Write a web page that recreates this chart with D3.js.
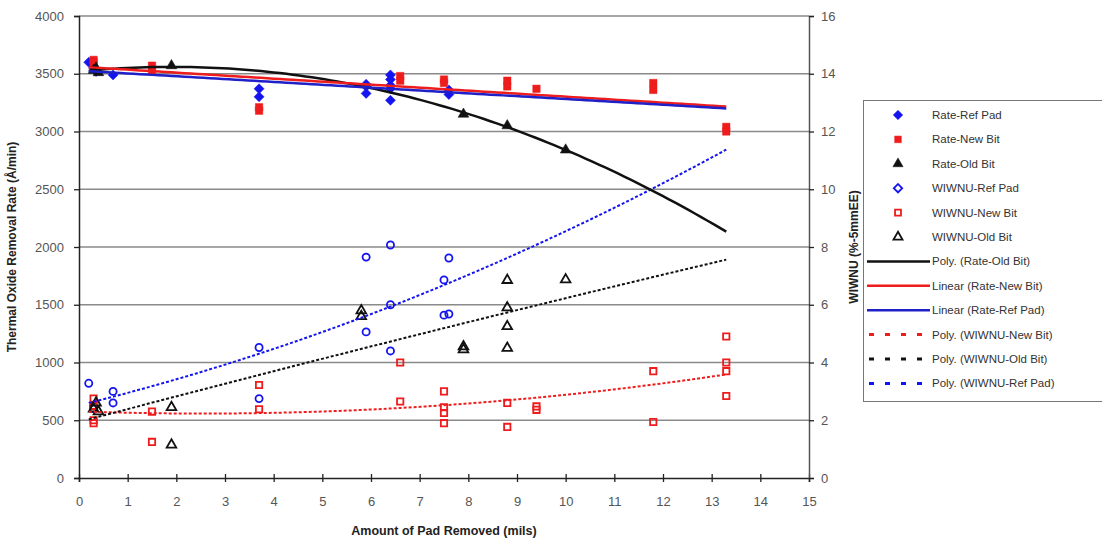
<!DOCTYPE html>
<html><head><meta charset="utf-8">
<script src="https://cdn.jsdelivr.net/npm/d3@7"></script>
<style>body{margin:0;background:#fff;} text{font-family:"Liberation Sans",Arial,sans-serif;}</style>
</head><body><svg id="c" width="1102" height="542"></svg>
<script>
// ---- data ----
const xTicks = d3.range(0, 16, 1);
const yLeftTicks = d3.range(0, 4001, 500);
const yRightTicks = d3.range(0, 17, 2);

const rateRefX = [0.2,0.3,0.35,0.7,3.7,3.7,5.9,5.9,5.9,6.4,6.4,6.4,6.4,6.4,7.6,7.6];
const rateRefY = [3600,3550,3520,3490,3370,3300,3410,3390,3330,3490,3450,3400,3370,3270,3360,3320];
const rateNewX = [0.3,0.3,1.5,1.5,3.7,3.7,6.6,6.6,7.5,7.5,8.8,8.8,9.4,11.8,11.8,13.3,13.3];
const rateNewY = [3620,3600,3570,3530,3210,3180,3480,3440,3450,3420,3440,3390,3370,3420,3360,3040,3000];
const rateOldX = [0.3,0.35,0.4,1.9,7.9,8.8,10];
const rateOldY = [3530,3550,3510,3570,3150,3050,2840];

const wRefX = [0.2,0.3,0.3,0.7,0.7,3.7,3.7,5.9,5.9,6.4,6.4,6.4,7.5,7.6,7.5,7.6];
const wRefY = [3.28,2.5,2.4,3.0,2.6,4.52,2.75,7.65,5.06,8.07,6.0,4.4,6.86,7.62,5.64,5.68];
const wNewX = [0.3,0.3,0.3,0.3,1.5,1.5,3.7,3.7,6.6,6.6,7.5,7.5,7.5,7.5,8.8,8.8,9.4,9.4,11.8,11.8,13.3,13.3,13.3,13.3];
const wNewY = [2.75,2.5,2.0,1.9,2.3,1.25,3.22,2.38,4.0,2.65,3.0,2.45,2.25,1.9,2.6,1.77,2.48,2.36,3.7,1.94,4.9,4.0,3.7,2.84];
const wOldX = [0.3,0.35,0.4,1.9,1.9,5.8,5.8,7.9,7.9,8.8,8.8,8.8,8.8,10];
const wOldY = [2.4,2.6,2.3,2.45,1.15,5.8,5.6,4.55,4.45,6.85,5.9,5.25,4.5,6.87];

const trendStart = 0.2, trendEnd = 13.3;

// ---- layout ----
const L = 79, R = 809, T = 16, B = 478;
const svg = d3.select("#c");
const x = d3.scaleLinear().domain([0,15]).range([L,R]);
const yL = d3.scaleLinear().domain([0,4000]).range([B,T]);
const yR = d3.scaleLinear().domain([0,16]).range([B,T]);

// gridlines
svg.append("g").selectAll("line").data(yLeftTicks.filter(v=>v>0)).join("line")
  .attr("x1",L).attr("x2",R).attr("y1",d=>yL(d)).attr("y2",d=>yL(d))
  .attr("stroke","#8a8a8a").attr("stroke-width",1.5);

// axes
const ax = svg.append("g").attr("transform",`translate(0,${B})`)
  .call(d3.axisBottom(x).tickValues(xTicks).tickSize(4).tickPadding(15).tickFormat(d3.format("d")));
ax.selectAll(".tick line").attr("y1",-4);
const ayl = svg.append("g").attr("transform",`translate(${L},0)`)
  .call(d3.axisLeft(yL).tickValues(yLeftTicks).tickSize(5).tickPadding(10).tickFormat(d3.format("d")));
const ayr = svg.append("g").attr("transform",`translate(${R},0)`)
  .call(d3.axisRight(yR).tickValues(yRightTicks).tickSize(5).tickPadding(7).tickFormat(d3.format("d")));
[ax,ayl,ayr].forEach(g=>{
  g.select(".domain").attr("stroke","#222").attr("stroke-width",1.5);
  g.selectAll(".tick line").attr("stroke","#222").attr("stroke-width",1.3);
  g.selectAll(".tick text").attr("font-size",13).attr("fill","#555").attr("font-family","Liberation Sans, Arial, sans-serif");
});
ayr.select(".domain").attr("stroke","#555");

// titles
svg.append("text").attr("x",444).attr("y",535).attr("text-anchor","middle")
  .attr("font-size",12.5).attr("font-weight","bold").attr("fill","#222").text("Amount of Pad Removed (mils)");
svg.append("text").attr("transform","translate(16,247) rotate(-90)").attr("text-anchor","middle")
  .attr("font-size",12).attr("font-weight","bold").attr("fill","#222").text("Thermal Oxide Removal Rate (Å/min)");
svg.append("text").attr("transform","translate(858,247) rotate(-90)").attr("text-anchor","middle")
  .attr("font-size",12).attr("font-weight","bold").attr("fill","#222").text("WIWNU (%-5mmEE)");

// regression
function fit(xs, ys, order){
  const n = order+1;
  const A = Array.from({length:n},()=>new Array(n).fill(0));
  const b = new Array(n).fill(0);
  xs.forEach((xv,i)=>{
    for(let r=0;r<n;r++){ b[r]+=ys[i]*Math.pow(xv,r); for(let c=0;c<n;c++) A[r][c]+=Math.pow(xv,r+c); }
  });
  for(let i=0;i<n;i++){
    let p=i; for(let k=i+1;k<n;k++) if(Math.abs(A[k][i])>Math.abs(A[p][i])) p=k;
    [A[i],A[p]]=[A[p],A[i]]; [b[i],b[p]]=[b[p],b[i]];
    for(let k=i+1;k<n;k++){ const f=A[k][i]/A[i][i]; for(let c=i;c<n;c++) A[k][c]-=f*A[i][c]; b[k]-=f*b[i]; }
  }
  const co=new Array(n).fill(0);
  for(let i=n-1;i>=0;i--){ let s=b[i]; for(let c=i+1;c<n;c++) s-=A[i][c]*co[c]; co[i]=s/A[i][i]; }
  return xv=>co.reduce((s,c,k)=>s+c*Math.pow(xv,k),0);
}
const samples = d3.range(0,101).map(i=>trendStart+(trendEnd-trendStart)*i/100);
function trend(xs,ys,order,yScale,color,dash){
  const f = fit(xs,ys,order);
  const p = svg.append("path").datum(samples)
    .attr("d", d3.line().x(d=>x(d)).y(d=>yScale(f(d))))
    .attr("fill","none").attr("stroke",color).attr("stroke-width",dash?2:2.5);
  if(dash) p.attr("stroke-dasharray",dash);
}

// markers
function markers(xs,ys,yScale,type,color,filled,size,rot){
  svg.append("g").selectAll("path").data(xs.map((v,i)=>[v,ys[i]])).join("path")
    .attr("transform",d=>`translate(${x(d[0])},${yScale(d[1])}) rotate(${rot||0})`)
    .attr("d", d3.symbol().type(type).size(size))
    .attr("fill", filled?color:"#fff").attr("fill-opacity", filled?1:0)
    .attr("stroke",color).attr("stroke-width",filled?0.5:1.8);
}
const BLUE="#1414f0", RED="#ee1c1c", BLK="#111";

markers(wRefX,wRefY,yR,d3.symbolCircle,BLUE,false,40);
markers(wNewX,wNewY,yR,d3.symbolSquare,RED,false,40);
markers(wOldX,wOldY,yR,d3.symbolTriangle,BLK,false,40);

trend(wNewX,wNewY,2,yR,RED,"3,2");
trend(wOldX,wOldY,2,yR,BLK,"3,2");
trend(wRefX,wRefY,2,yR,BLUE,"3,2");

markers(rateRefX,rateRefY,yL,d3.symbolSquare,BLUE,true,50,45);
markers(rateNewX,rateNewY,yL,d3.symbolSquare,RED,true,55,0);
markers(rateOldX,rateOldY,yL,d3.symbolTriangle,BLK,true,50,0);

trend(rateOldX,rateOldY,2,yL,BLK,null);
trend(rateNewX,rateNewY,1,yL,RED,null);
trend(rateRefX,rateRefY,1,yL,"#2020c8",null);

// legend
const lg = svg.append("g");
lg.append("rect").attr("x",863.5).attr("y",100.5).attr("width",245).attr("height",301)
  .attr("fill","#fff").attr("stroke","#777").attr("stroke-width",1);
const legendItems = [
  ["Rate-Ref Pad","m",d3.symbolSquare,BLUE,true,45],
  ["Rate-New Bit","m",d3.symbolSquare,RED,true,0],
  ["Rate-Old Bit","m",d3.symbolTriangle,BLK,true,0],
  ["WIWNU-Ref Pad","m",d3.symbolSquare,BLUE,false,45],
  ["WIWNU-New Bit","m",d3.symbolSquare,RED,false,0],
  ["WIWNU-Old Bit","m",d3.symbolTriangle,BLK,false,0],
  ["Poly. (Rate-Old Bit)","l",null,BLK,null],
  ["Linear (Rate-New Bit)","l",null,RED,null],
  ["Linear (Rate-Ref Pad)","l",null,"#2020c8",null],
  ["Poly. (WIWNU-New Bit)","l",null,RED,"5,11"],
  ["Poly. (WIWNU-Old Bit)","l",null,BLK,"5,11"],
  ["Poly. (WIWNU-Ref Pad)","l",null,BLUE,"5,11"]
];
legendItems.forEach((it,i)=>{
  const yy = 115 + i*24.4;
  if(it[1]==="m"){
    lg.append("path").attr("transform",`translate(898,${yy}) rotate(${it[5]})`)
      .attr("d",d3.symbol().type(it[2]).size(it[4]?45:35))
      .attr("fill",it[4]?it[3]:"#fff").attr("stroke",it[3]).attr("stroke-width",it[4]?0.5:1.8);
  } else {
    const ln = lg.append("line").attr("x1",867).attr("x2",930).attr("y1",yy).attr("y2",yy)
      .attr("stroke",it[3]).attr("stroke-width",it[4]?3:2.5);
    if(it[4]) ln.attr("stroke-dasharray",it[4]).attr("stroke-dashoffset",-2);
  }
  lg.append("text").attr("x",932).attr("y",yy+4).attr("font-size",11.5).attr("fill","#333").text(it[0]);
});
</script></body></html>
